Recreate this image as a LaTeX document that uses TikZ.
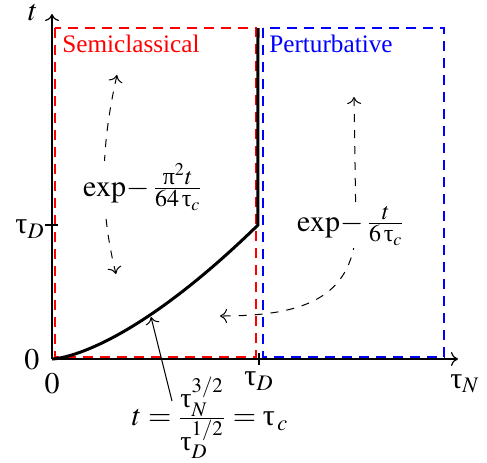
\documentclass[tikz,border=0pt]{standalone}
\usepackage{amsmath}
\usepackage{mathptmx}
\usepackage[no-math]{fontspec}
\setmainfont{Liberation Serif}
\usetikzlibrary{arrows.meta,positioning}

\newcommand{\gtau}{\text{τ}}
\newcommand{\gpi}{\text{π}}
\newcommand{\fracpart}[2][12]{\mbox{\fontsize{#1}{14}\selectfont$#2$}}
\newcommand{\ratefrac}[3][12]{\frac{\fracpart[#1]{#2}}{\fracpart[#1]{#3}}}

\begin{document}
\begin{tikzpicture}[
  x=0.5pt, y=-0.5pt, >={To[length=3.5pt,width=7pt]},
  axis/.style={->, line width=0.6pt},
  regime/.style={dash pattern=on 5pt off 3.5pt, line width=0.6pt},
  flow/.style={<->, dash pattern=on 4pt off 4pt, line width=0.5pt},
  mathlbl/.style={font=\fontsize{15}{18}\selectfont, inner sep=1pt},
  boxlbl/.style={font=\fontsize{12.6}{15}\selectfont, inner sep=0pt, anchor=base west}
]
\useasboundingbox (0,0) rectangle (487,462);

\coordinate (O) at (52,359);
\coordinate (ytop) at (52,14);
\coordinate (xend) at (458,359);
\coordinate (cross) at (258,225);
\coordinate (crosstop) at (258,28);

% regimes
\draw[regime, red] (55,28) rectangle (256,357);
\draw[regime, blue] (263,28) rectangle (444,357);
\node[boxlbl, red] (semi) at (62,52) {Semiclassical};
\node[boxlbl, blue] (pert) at (269,52) {Perturbative};

% axes
\draw[axis] (O) -- (ytop);
\draw[axis] (O) -- (xend);
\draw[line width=0.6pt] (45,225) -- (58,225);
\draw[line width=0.6pt] (259,353) -- (259,365);
\node[mathlbl, inner sep=0pt] (tlab) at (33,13) {$t$};
\node[mathlbl] (ylow) at (32,360) {$0$};
\node[mathlbl] (xlow) at (52,384) {$0$};
\node[mathlbl] (ytD) at (30,229) {$\gtau_D$};
\node[mathlbl] (xtD) at (259,381) {$\gtau_D$};
\node[mathlbl] (xtN) at (465,384) {$\gtau_N$};

% crossover line
\draw[line width=1.5pt] (O) -- plot[domain=0.01:1, samples=40] ({52+206*\x},{359-134*\x*sqrt(\x)}) -- (crosstop);

% rates
\coordinate (sctop) at (117,75);
\coordinate (scbot) at (116,274);
\draw[flow] (sctop) .. controls (100,150) and (100,210) .. (scbot);
\coordinate (pttop) at (354,97);
\coordinate (ptend) at (220,316);
\draw[flow] (pttop) -- (356,230) .. controls (352,300) and (300,316) .. (ptend);
\node[mathlbl, fill=white] (scrate) at (143,187) {$\mathrm{exp}{-}\,\ratefrac{\gpi^2t}{64\,\gtau_c}$};
\node[mathlbl, fill=white] (ptrate) at (351,226) {$\mathrm{exp}{-}\,\ratefrac{t}{6\,\gtau_c}$};

% crossover time
\node[mathlbl, inner sep=0pt] (tc) at (210,418) {$t=\ratefrac[14]{\gtau_N^{3/2}}{\gtau_D^{1/2}}=\gtau_{\,c}$};
\coordinate (tctail) at (172,401);
\coordinate (hit) at (151,317);
\draw[->, line width=0.5pt] (tctail) -- (hit);
\end{tikzpicture}
\end{document}
